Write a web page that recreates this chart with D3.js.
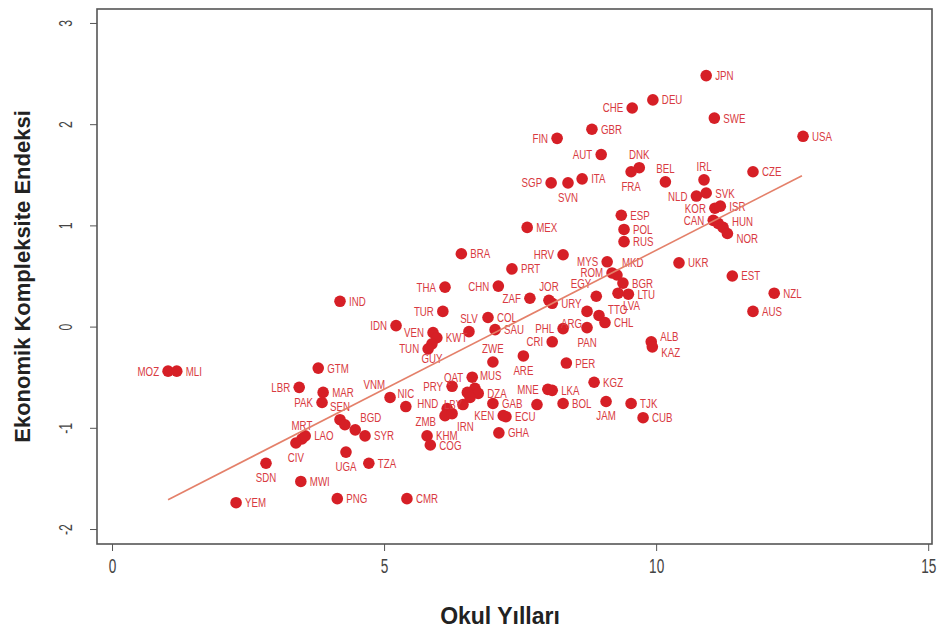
<!DOCTYPE html>
<html>
<head>
<meta charset="utf-8">
<script src="https://cdn.jsdelivr.net/npm/d3@7"></script>
<style>
body { margin: 0; background: #fff; }
</style>
</head>
<body>
<div id="viz"></div>
<script>
// country codes, mean years of schooling, economic complexity index
var codes = ["JPN","DEU","CHE","SWE","USA","GBR","FIN","AUT","SGP","SVN","ITA","DNK","FRA","BEL","IRL","CZE",
  "NLD","SVK","KOR","ISR","CAN","","HUN","NOR","ESP","POL","RUS","MEX","BRA","HRV","MYS","PRT","UKR","EST",
  "NZL","AUS","ROM","MKD","BGR","LVA","LTU","THA","CHN","ZAF","JOR","URY","EGY","TUR","IND","IDN","COL","SLV",
  "SAU","PHL","CRI","ARG","TTO","CHL","PAN","ALB","KAZ","PER","VEN","KWT","GUY","TUN","ZWE","ARE","QAT","MUS",
  "DZA","LBY","","PRY","MNE","LKA","BOL","KGZ","JAM","TJK","CUB","GAB","","ECU","KEN","HND","ZMB","IRN","",
  "GHA","KHM","COG","VNM","NIC","GTM","LBR","MAR","PAK","SEN","","BGD","SYR","MRT","LAO","CIV","UGA","TZA",
  "SDN","MWI","YEM","PNG","CMR","MOZ","MLI"];

var schoolYears = [10.92,9.94,9.56,11.07,12.70,8.82,8.18,8.99,8.07,8.38,8.64,9.69,9.54,10.17,10.88,11.78,
  10.74,10.92,11.08,11.18,11.05,11.14,11.23,11.31,9.36,9.41,9.41,7.63,6.42,8.29,9.10,7.35,10.42,11.40,
  12.17,11.78,9.19,9.28,9.39,9.30,9.49,6.12,7.10,7.68,8.03,8.09,8.90,6.08,4.19,5.22,6.91,6.56,
  7.04,8.29,8.09,8.73,8.95,9.06,8.73,9.91,9.93,8.35,5.90,5.97,5.88,5.81,7.00,7.56,6.62,6.67,
  6.73,6.53,6.58,6.25,8.01,8.09,8.29,8.86,9.08,9.54,9.76,7.00,7.81,7.24,7.19,6.16,6.12,6.25,6.45,
  7.11,5.79,5.85,5.11,5.40,3.79,3.44,3.88,3.86,4.19,4.28,4.47,4.65,3.49,3.55,3.38,4.30,4.72,
  2.83,3.47,2.28,4.14,5.42,1.03,1.19];

var eciValues = [2.48,2.24,2.16,2.06,1.88,1.95,1.86,1.70,1.42,1.42,1.46,1.57,1.53,1.43,1.45,1.53,
  1.29,1.32,1.17,1.19,1.05,1.02,0.98,0.92,1.10,0.96,0.84,0.98,0.72,0.71,0.64,0.57,0.63,0.50,
  0.33,0.15,0.53,0.51,0.43,0.33,0.32,0.39,0.40,0.28,0.26,0.23,0.30,0.15,0.25,0.01,0.09,-0.05,
  -0.03,-0.02,-0.15,0.15,0.11,0.04,-0.01,-0.15,-0.20,-0.36,-0.06,-0.11,-0.17,-0.22,-0.35,-0.29,-0.50,-0.61,
  -0.66,-0.65,-0.70,-0.59,-0.62,-0.63,-0.76,-0.55,-0.74,-0.76,-0.90,-0.76,-0.77,-0.89,-0.88,-0.81,-0.88,-0.86,-0.77,
  -1.05,-1.08,-1.17,-0.70,-0.79,-0.41,-0.60,-0.65,-0.75,-0.92,-0.97,-1.02,-1.08,-1.11,-1.08,-1.15,-1.24,-1.35,
  -1.35,-1.53,-1.74,-1.70,-1.70,-0.44,-0.44];

var xTicks = [0, 5, 10, 15];
var yTicks = [-2, -1, 0, 1, 2, 3];

// fitted line
var trendX = [1.03, 12.68];
var trendSlope = 0.2747;
var trendIntercept = -1.993;

// where each country's label sits relative to its dot (default: right)
var labelSide = {
  CHE:"l", FIN:"l", AUT:"l", SGP:"l", SVN:"b", DNK:"a", FRA:"b", BEL:"a", IRL:"a", NLD:"l", KOR:"l", CAN:"l",
  HUN:"ru", NOR:"rd",
  HRV:"l", MYS:"l", ROM:"l", MKD:"ar", LVA:"br", THA:"l", CHN:"l", ZAF:"l", JOR:"a", EGY:"al", TUR:"l",
  IDN:"l", SLV:"a", PHL:"l", CRI:"l", ARG:"bl", PAN:"b", VEN:"l", GUY:"b", TUN:"l", ZWE:"a", ARE:"b",
  TTO:"ru", ALB:"ru", KAZ:"rd",
  QAT:"l", MUS:"ar", LBY:"bl", PRY:"l", MNE:"l", JAM:"b", KEN:"l", HND:"lu", ZMB:"ld", IRN:"br",
  VNM:"al", NIC:"a", LBR:"l", PAK:"l", SEN:"a", BGD:"ar", MRT:"a", CIV:"b", UGA:"b", SDN:"b", MOZ:"l"
};

var W = 937, H = 629;
var box = {left: 97, top: 9, right: 932, bottom: 544};

var x = d3.scaleLinear().domain([-0.276, 15.07]).range([box.left, box.right]);
var y = d3.scaleLinear().domain([3.138, -2.148]).range([box.top, box.bottom]);

var dotColor = "#d61f26",
    labelColor = "#d83a41",
    narrow = "'Liberation Sans', Arial, sans-serif",
    squeeze = 0.72;

var svg = d3.select("#viz").append("svg")
    .attr("width", W)
    .attr("height", H);

svg.append("rect")
    .attr("x", box.left).attr("y", box.top)
    .attr("width", box.right - box.left).attr("height", box.bottom - box.top)
    .attr("fill", "none").attr("stroke", "#555").attr("stroke-width", 1.6);

// x axis
var xAxis = svg.append("g")
    .attr("transform", "translate(0," + box.bottom + ")")
    .call(d3.axisBottom(x).tickValues(xTicks).tickSize(7).tickPadding(8));
xAxis.select(".domain").remove();
xAxis.selectAll("line").attr("stroke", "#555");
xAxis.selectAll("text")
    .attr("transform", "scale(0.68,1)")
    .style("font-family", narrow).style("font-size", "20px").attr("fill", "#444");

// y axis, labels turned like R does
var yAxis = svg.append("g")
    .attr("transform", "translate(" + box.left + ",0)")
    .call(d3.axisLeft(y).tickValues(yTicks).tickSize(7).tickFormat(function(d){return d;}));
yAxis.select(".domain").remove();
yAxis.selectAll("line").attr("stroke", "#555");
yAxis.selectAll("text")
    .attr("x", null).attr("dy", null)
    .attr("text-anchor", "middle")
    .attr("transform", "translate(-31,0) rotate(-90) translate(0,6) scale(0.68,1)")
    .style("font-family", narrow).style("font-size", "18px").attr("fill", "#444");

// axis titles
svg.append("text")
    .attr("x", 500).attr("y", 624)
    .attr("text-anchor", "middle")
    .style("font-family", "'Liberation Sans', Arial, sans-serif")
    .style("font-weight", "bold").style("font-size", "23px")
    .attr("fill", "#222")
    .text("Okul Yılları");

svg.append("text")
    .attr("transform", "translate(30," + ((box.top + box.bottom) / 2) + ") rotate(-90)")
    .attr("text-anchor", "middle")
    .style("font-family", "'Liberation Sans', Arial, sans-serif")
    .style("font-weight", "bold").style("font-size", "22px")
    .attr("fill", "#222")
    .text("Ekonomik Kompleksite Endeksi");

var data = codes.map(function(c, i){
  return {code: c, sy: schoolYears[i], eci: eciValues[i]};
});

svg.append("g").selectAll("circle")
    .data(data)
    .enter().append("circle")
    .attr("cx", function(d){return x(d.sy);})
    .attr("cy", function(d){return y(d.eci);})
    .attr("r", 5.8)
    .attr("fill", dotColor);

var offsets = {
  r:  {dx: 9,  dy: 4.5, anchor: "start"},
  l:  {dx: -9, dy: 4.5, anchor: "end"},
  ru: {dx: 9,  dy: -1,  anchor: "start"},
  rd: {dx: 9,  dy: 10,  anchor: "start"},
  lu: {dx: -9, dy: -1,  anchor: "end"},
  ld: {dx: -9, dy: 10,  anchor: "end"},
  a:  {dx: 0,  dy: -9,  anchor: "middle"},
  b:  {dx: 0,  dy: 19,  anchor: "middle"},
  ar: {dx: 5,  dy: -8,  anchor: "start"},
  al: {dx: -5, dy: -8,  anchor: "end"},
  br: {dx: 5,  dy: 17,  anchor: "start"},
  bl: {dx: -5, dy: 17,  anchor: "end"}
};

function off(d){ return offsets[labelSide[d.code] || "r"]; }

svg.append("g").selectAll("text")
    .data(data.filter(function(d){return d.code !== "";}))
    .enter().append("text")
    .attr("transform", function(d){
      return "translate(" + (x(d.sy) + off(d).dx) + "," + (y(d.eci) + off(d).dy) + ") scale(" + squeeze + ",1)";
    })
    .attr("text-anchor", function(d){return off(d).anchor;})
    .style("font-family", narrow).style("font-size", "13.5px")
    .attr("fill", labelColor)
    .text(function(d){return d.code;});

svg.append("line")
    .attr("x1", x(trendX[0])).attr("y1", y(trendIntercept + trendSlope * trendX[0]))
    .attr("x2", x(trendX[1])).attr("y2", y(trendIntercept + trendSlope * trendX[1]))
    .attr("stroke", "#e4806a").attr("stroke-width", 1.6);
</script>
</body>
</html>
